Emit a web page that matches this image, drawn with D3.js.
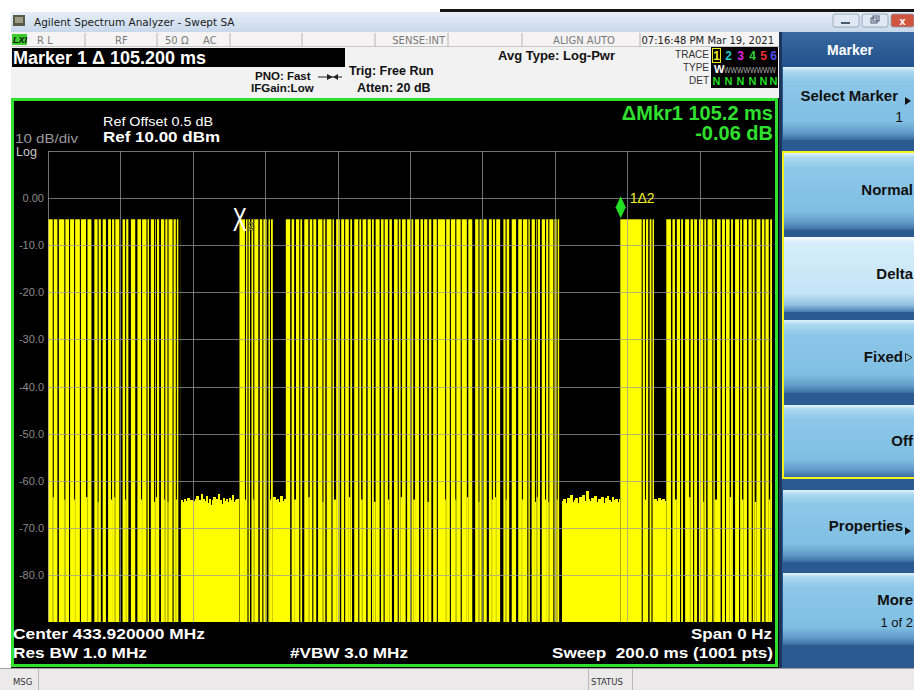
<!DOCTYPE html>
<html><head><meta charset="utf-8">
<script src="https://cdn.jsdelivr.net/npm/d3@7"></script>
<style>
html,body{margin:0;padding:0;background:#fff;overflow:hidden;}
svg{display:block;font-family:"Liberation Sans",Arial,sans-serif;}
</style></head><body>
<svg id="c" width="914" height="690"></svg>
<script>
// ---------------- data ----------------
const sweepMs = [0, 200];
const scaleDbm = [-90, 10];
const xGridMs = [0, 20, 40, 60, 80, 100, 120, 140, 160, 180];
const yGridDbm = [10, 0, -10, -20, -30, -40, -50, -60, -70, -80];
const yTickDbm = [0, -10, -20, -30, -40, -50, -60, -70, -80];
const yTickLabels = ["0.00", "-10.0", "-20.0", "-30.0", "-40.0", "-50.0", "-60.0", "-70.0", "-80.0"];

const onLevelDbm = -4.5;
const burstStartMs = [0, 52.9, 65.7, 158.1, 170.8];
const burstEndMs = [36.7, 62.1, 141.2, 167.4, 200];

// "off" slots inside the bursts: start (ms), duration (ms), level the trace falls to (dBm; -100 = below screen)
const offStartMs = [
  1.3, 2.6, 4.5, 5.8, 7.2, 8.8, 10.5, 12.0, 13.7, 14.6, 16.0, 17.4, 18.3, 19.7, 21.3, 22.2, 24.1, 25.7, 27.2, 27.9, 29.3, 29.8, 30.7, 32.1, 33.0, 34.4, 35.3, 36.0,
  54.4, 55.1, 55.8, 56.7, 58.1, 59.2, 60.4, 61.3,
  66.9, 68.0, 69.4, 70.2, 71.9, 73.0, 74.1, 75.8, 76.6, 78.3, 79.0, 80.6, 81.8, 83.1, 84.0, 85.7, 86.5, 87.9, 89.2, 90.0, 91.6, 92.7, 93.9, 95.0, 96.6, 97.4, 98.8, 100.1, 100.9, 102.5, 103.6, 104.8, 105.9, 107.4,
  109.7, 111.0, 112.5, 114.0, 115.7, 117.2, 118.9, 119.8, 121.2, 122.6, 123.5, 124.9, 126.4, 127.4, 129.3, 130.9, 132.4, 133.1, 134.5, 135.0, 135.9, 137.3, 138.2, 139.6, 140.5,
  164.0, 164.9, 165.8, 166.7,
  172.1, 173.2, 174.6, 175.4, 177.1, 178.2, 179.3, 181.0, 181.8, 183.5, 184.2, 185.8, 187.0, 188.3, 189.2, 190.9, 191.7, 193.1, 194.4, 195.2, 196.8, 197.9, 199.1];
const offDurMs = [
  0.3, 0.4, 0.3, 0.3, 0.3, 0.3, 0.4, 0.8, 0.3, 0.5, 0.6, 0.3, 0.3, 0.9, 0.3, 0.7, 0.6, 0.3, 0.3, 0.5, 0.3, 0.3, 0.5, 0.3, 0.3, 0.3, 0.3, 0.7,
  0.3, 0.3, 0.4, 0.3, 0.4, 0.3, 0.5, 0.3,
  0.4, 0.5, 0.3, 0.6, 0.4, 0.3, 0.5, 0.3, 0.4, 0.3, 0.6, 0.4, 0.3, 0.4, 0.6, 0.3, 0.4, 0.4, 0.3, 0.5, 0.4, 0.3, 0.4, 0.6, 0.3, 0.4, 0.4, 0.3, 0.5, 0.4, 0.3, 0.4, 0.5, 0.3,
  0.3, 0.3, 0.3, 0.3, 0.4, 0.8, 0.3, 0.5, 0.6, 0.3, 0.3, 0.9, 0.3, 0.7, 0.6, 0.3, 0.3, 0.5, 0.3, 0.3, 0.5, 0.3, 0.3, 0.3, 0.3,
  0.3, 0.3, 0.4, 0.3,
  0.4, 0.5, 0.3, 0.6, 0.4, 0.3, 0.5, 0.3, 0.4, 0.3, 0.6, 0.4, 0.3, 0.4, 0.6, 0.3, 0.4, 0.4, 0.3, 0.5, 0.4, 0.3, 0.4];
const offFloorDbm = [
  -63.5, -100, -64, -100, -64, -100, -63.5, -100, -64.5, -100, -100, -64, -63.5, -100, -64, -100, -100, -64, -100, -100, -64.5, -63.5, -100, -64, -64.5, -100, -64, -100,
  -64, -100, -100, -64, -100, -100, -100, -64,
  -100, -64, -100, -100, -63.5, -100, -100, -64.5, -100, -100, -64, -100, -100, -63.5, -100, -100, -64, -100, -100, -64.5, -100, -100, -64, -100, -100, -63.5, -100, -100, -64, -100, -100, -64.5, -100, -100,
  -64, -100, -64, -100, -63.5, -100, -64.5, -100, -100, -64, -63.5, -100, -64, -100, -100, -64, -100, -100, -64.5, -63.5, -100, -64, -64.5, -100, -64,
  -100, -64, -100, -100,
  -100, -64, -100, -100, -63.5, -100, -100, -64.5, -100, -100, -64, -100, -100, -63.5, -100, -100, -64, -100, -100, -64.5, -100, -100, -64];

// noise floor between bursts (read along the ragged top edge)
const noiseGapStartMs = [36.7, 62.1, 141.9, 167.4];
const noiseGapEndMs = [52.9, 65.7, 158.1, 170.8];
const noiseGapDbm = [
  [-64.2,-64.6,-63.9,-64.3,-63.6,-64.8,-64.1,-65.0,-64.3,-63.8,-63.3,-64.6,-64.1,-62.8,-63.9,-64.4,-63.2,-64.7,-63.9,-65.1,-64.2,-63.4,-64.6,-63.8,-62.9,-64.1,-64.9,-63.6,-64.3,-63.9,-64.5,-63.7,-64.0,-63.1,-64.6,-64.2,-63.8,-64.4],
  [-63.4,-64.1,-63.8,-64.6,-63.2,-64.3,-63.9],
  [-64.4,-63.9,-64.7,-63.6,-64.2,-63.1,-64.5,-64.0,-63.7,-64.8,-63.5,-64.1,-63.0,-64.4,-62.2,-63.8,-64.3,-63.6,-64.1,-63.3,-64.6,-63.9,-64.2,-63.4,-64.8,-63.7,-63.2,-64.0,-64.5,-63.5,-64.2,-63.8,-64.6,-63.9],
  [-63.9,-64.3,-63.6,-64.1,-63.8,-64.4]
];

const marker2Ms = 53.0;
const marker1Ms = 158.2;

// ---------------- drawing ----------------
const svg = d3.select("#c");
const defs = svg.append("defs");
const x = d3.scaleLinear().domain(sweepMs).range([48, 772]);
const y = d3.scaleLinear().domain(scaleDbm).range([622, 151]);

function grad(id, stops) {
  const g = defs.append("linearGradient").attr("id", id).attr("x1", 0).attr("x2", 0).attr("y1", 0).attr("y2", 1);
  stops.forEach(s => g.append("stop").attr("offset", s[0]).attr("stop-color", s[1]));
}
grad("titleG", [[0, "#e6eef8"], [1, "#c8d8eb"]]);
grad("btnG", [[0, "#e2f2fb"], [0.06, "#acd8f0"], [0.2, "#8cc7e8"], [0.75, "#80bfe3"], [0.9, "#609bc8"], [1, "#3a6da2"]]);
grad("btnSel", [[0, "#f7fcff"], [0.08, "#d6eefa"], [0.75, "#c4e4f6"], [0.9, "#94c2e2"], [1, "#4a7db0"]]);
grad("hdrG", [[0, "#3a6aa2"], [1, "#22508a"]]);

// page
svg.append("rect").attr("width", 914).attr("height", 690).attr("fill", "#ffffff");
svg.append("rect").attr("x", 440).attr("y", 9).attr("width", 474).attr("height", 3).attr("fill", "#151515");

// title bar
svg.append("rect").attr("x", 11).attr("y", 12).attr("width", 903).attr("height", 20).attr("fill", "url(#titleG)");
const ic = svg.append("g");
ic.append("rect").attr("x", 13).attr("y", 15).attr("width", 12).attr("height", 11).attr("fill", "#5a5a48");
ic.append("rect").attr("x", 15).attr("y", 17).attr("width", 8).attr("height", 6).attr("fill", "#9c9c80");
svg.append("text").attr("x", 34).attr("y", 26).attr("font-family", "'DejaVu Sans',sans-serif").attr("font-size", 10.5).attr("fill", "#1b1b1b").text("Agilent Spectrum Analyzer - Swept SA");
// window buttons
[[833, "#dfe8f3"], [862, "#dfe8f3"], [891, "#d0553f"]].forEach((b, i) => {
  svg.append("rect").attr("x", b[0]).attr("y", 14).attr("width", i === 2 ? 23 : 26).attr("height", 13).attr("rx", 2).attr("fill", b[1]).attr("stroke", "#8b9bb0").attr("stroke-width", 0.8);
});
svg.append("rect").attr("x", 841).attr("y", 22).attr("width", 9).attr("height", 2).attr("fill", "#4a5a70");
svg.append("rect").attr("x", 871).attr("y", 18).attr("width", 6).attr("height", 5).attr("fill", "none").attr("stroke", "#4a5a70");
svg.append("rect").attr("x", 873).attr("y", 16).attr("width", 6).attr("height", 5).attr("fill", "none").attr("stroke", "#4a5a70");
svg.append("text").attr("x", 902.5).attr("y", 25).attr("text-anchor", "middle").attr("font-size", 11).attr("font-weight", "bold").attr("fill", "#fff").text("x");

// status row
svg.append("rect").attr("x", 11).attr("y", 32).attr("width", 770).attr("height", 15).attr("fill", "#f5f3f3");
svg.append("line").attr("x1", 11).attr("x2", 781).attr("y1", 47).attr("y2", 47).attr("stroke", "#9a9a9a");
[85, 157, 230, 302, 375, 448, 522, 640].forEach(v => svg.append("line").attr("x1", v).attr("x2", v).attr("y1", 33).attr("y2", 47).attr("stroke", "#b5b5b5"));
svg.append("rect").attr("x", 12).attr("y", 34).attr("width", 15).attr("height", 11).attr("fill", "#3ccc2c");
svg.append("text").attr("x", 13).attr("y", 43).attr("font-size", 9).attr("font-style", "italic").attr("font-weight", "bold").attr("fill", "#111").text("LXI");
const statusTxt = [["R L", 37, "start"], ["RF", 115, "start"], ["50 Ω", 165, "start"], ["AC", 203, "start"], ["SENSE:INT", 445, "end"], ["ALIGN AUTO", 615, "end"], ["07:16:48 PM Mar 19, 2021", 774, "end"]];
statusTxt.forEach(s => svg.append("text").attr("x", s[1]).attr("y", 44).attr("text-anchor", s[2]).attr("font-family", "'DejaVu Sans',sans-serif").attr("font-size", 10).attr("fill", s[0].startsWith("07") ? "#222" : "#7a7a7a").text(s[0]));

// info area
svg.append("rect").attr("x", 11).attr("y", 47).attr("width", 770).attr("height", 51).attr("fill", "#f2f2f2");
svg.append("rect").attr("x", 12).attr("y", 48).attr("width", 333).attr("height", 19).attr("fill", "#000");
svg.append("text").attr("x", 13).attr("y", 64).attr("font-size", 18).attr("font-weight", "bold").attr("fill", "#fff").text("Marker 1 Δ 105.200 ms");
const infoTxt = [["PNO: Fast", 255, 80, 11.5], ["IFGain:Low", 251, 92, 11.5], ["Trig: Free Run", 349, 75, 12.5], ["Atten: 20 dB", 357, 92, 12.5], ["Avg Type: Log-Pwr", 498, 60, 13]];
infoTxt.forEach(s => svg.append("text").attr("x", s[1]).attr("y", s[2]).attr("font-size", s[3]).attr("font-weight", "bold").attr("fill", "#111").text(s[0]));
svg.append("line").attr("x1", 318).attr("x2", 342).attr("y1", 77).attr("y2", 77).attr("stroke", "#222");
svg.append("path").attr("d", "M327,74 L333,77 L327,80 Z").attr("fill", "#222");
svg.append("path").attr("d", "M338,74 L333,77 L338,80 Z").attr("fill", "#222");
[["TRACE", 58], ["TYPE", 71], ["DET", 84]].forEach(s => svg.append("text").attr("x", 709).attr("y", s[1]).attr("text-anchor", "end").attr("font-size", 10).attr("fill", "#333").text(s[0]));
svg.append("rect").attr("x", 711).attr("y", 47).attr("width", 67).attr("height", 41).attr("fill", "#000");
svg.append("rect").attr("x", 712.5).attr("y", 48.5).attr("width", 8).attr("height", 14).attr("fill", "none").attr("stroke", "#e8e820");
const traceNums = ["1", "2", "3", "4", "5", "6"];
const traceCols = ["#f0f020", "#22c8c8", "#e020e0", "#30d030", "#f03030", "#5050f0"];
const traceNumX = [716.5, 728.5, 740.5, 752.5, 763.5, 773.5];
traceNums.forEach((t, i) => {
  svg.append("text").attr("x", traceNumX[i]).attr("y", 60).attr("text-anchor", "middle").attr("font-size", 12).attr("font-weight", "bold").attr("fill", traceCols[i]).text(t);
  svg.append("text").attr("x", traceNumX[i]).attr("y", 85).attr("text-anchor", "middle").attr("font-size", 11).attr("font-weight", "bold").attr("fill", "#22dd22").text("N");
});
svg.append("text").attr("x", 714).attr("y", 73).attr("font-size", 11).attr("font-weight", "bold").attr("fill", "#fff").text("W");
svg.append("text").attr("x", 724).attr("y", 73).attr("font-size", 9).attr("fill", "#aaa").attr("textLength", 52).attr("lengthAdjust", "spacingAndGlyphs").text("WWWWWWWW");

// graph frame
svg.append("rect").attr("x", 11).attr("y", 98).attr("width", 768).attr("height", 570).attr("fill", "#000");
svg.append("rect").attr("x", 12.5).attr("y", 99.5).attr("width", 764).attr("height", 566).attr("fill", "none").attr("stroke", "#2fe02f").attr("stroke-width", 3);

// trace
const clip = defs.append("clipPath").attr("id", "plotClip");
clip.append("rect").attr("x", x(0)).attr("y", y(10)).attr("width", x(200) - x(0)).attr("height", y(-90) - y(10));
const tr = svg.append("g").attr("clip-path", "url(#plotClip)");
const YEL = "#ffff00";
const bursts = burstStartMs.map((s, i) => ({ s, e: burstEndMs[i] }));
tr.selectAll("rect.burst").data(bursts).join("rect").attr("class", "burst")
  .attr("x", d => x(d.s)).attr("width", d => x(d.e) - x(d.s))
  .attr("y", y(onLevelDbm)).attr("height", y(-90) - y(onLevelDbm)).attr("fill", YEL);
const offs = offStartMs.map((s, i) => ({ s, d: offDurMs[i], f: offFloorDbm[i] }));
tr.selectAll("rect.off").data(offs).join("rect").attr("class", "off")
  .attr("x", d => x(d.s)).attr("width", d => Math.max(1, x(d.s + d.d) - x(d.s)))
  .attr("y", y(onLevelDbm) - 1).attr("height", y(-90) - y(onLevelDbm) + 2).attr("fill", "#000");
tr.selectAll("rect.offn").data(offs.filter(d => d.f > -90)).join("rect").attr("class", "offn")
  .attr("x", d => x(d.s)).attr("width", d => Math.max(1, x(d.s + d.d) - x(d.s)))
  .attr("y", d => y(d.f)).attr("height", d => y(-90) - y(d.f)).attr("fill", YEL);
noiseGapDbm.forEach((arr, gi) => {
  const s = noiseGapStartMs[gi], e = noiseGapEndMs[gi], step = (e - s) / arr.length;
  const w = (x(e) - x(s)) / arr.length;
  tr.selectAll(null).data(arr).join("rect")
    .attr("x", (d, i) => x(s + i * step)).attr("width", (d, i) => i === arr.length - 1 ? w : w + 1)
    .attr("y", d => y(d)).attr("height", d => y(-90) - y(d)).attr("fill", YEL).attr("shape-rendering", "crispEdges");
});

// graticule (drawn over the trace)
const grid = svg.append("g").attr("stroke", "#9a9a9a").attr("stroke-opacity", 0.72).attr("stroke-width", 1);
grid.selectAll("line.h").data(yGridDbm).join("line").attr("x1", x(0)).attr("x2", x(200)).attr("y1", d => Math.round(y(d)) + 0.5).attr("y2", d => Math.round(y(d)) + 0.5);
grid.selectAll("line.v").data(xGridMs).join("line").attr("y1", y(10)).attr("y2", y(-90)).attr("x1", d => Math.round(x(d)) + 0.5).attr("x2", d => Math.round(x(d)) + 0.5);

// y labels
const yAxis = d3.axisLeft(y).tickValues(yTickDbm).tickFormat((d, i) => yTickLabels[i]).tickSize(0).tickPadding(4);
const ya = svg.append("g").attr("transform", `translate(${x(0)},0)`).call(yAxis);
ya.select(".domain").remove();
ya.selectAll("text").attr("font-family", "'Liberation Sans',Arial,sans-serif").attr("font-size", 11).attr("fill", "#8a8a8a");

// annotations
svg.append("text").attr("x", 15).attr("y", 143).attr("font-size", 12).attr("fill", "#9a9a9a").attr("textLength", 63).attr("lengthAdjust", "spacingAndGlyphs").text("10 dB/div");
svg.append("text").attr("x", 16).attr("y", 156).attr("font-size", 12.5).attr("fill", "#c8c8c8").text("Log");
svg.append("text").attr("x", 103).attr("y", 126).attr("font-size", 12.5).attr("fill", "#fff").attr("textLength", 110).attr("lengthAdjust", "spacingAndGlyphs").text("Ref Offset 0.5 dB");
svg.append("text").attr("x", 103).attr("y", 142).attr("font-size", 14).attr("font-weight", "bold").attr("fill", "#fff").attr("textLength", 117).attr("lengthAdjust", "spacingAndGlyphs").text("Ref 10.00 dBm");
svg.append("text").attr("x", 773).attr("y", 120).attr("text-anchor", "end").attr("font-size", 20).attr("font-weight", "bold").attr("fill", "#2fe02f").text("ΔMkr1 105.2 ms");
svg.append("text").attr("x", 773).attr("y", 140).attr("text-anchor", "end").attr("font-size", 20).attr("font-weight", "bold").attr("fill", "#2fe02f").text("-0.06 dB");

const bottomTxt = [["Center 433.920000 MHz", 13, 639, "start", 192], ["Res BW 1.0 MHz", 13, 658, "start", 134], ["#VBW 3.0 MHz", 290, 658, "start", 118], ["Span 0 Hz", 772, 639, "end", 81], ["Sweep  200.0 ms (1001 pts)", 773, 658, "end", 221]];
bottomTxt.forEach(s => svg.append("text").attr("x", s[1]).attr("y", s[2]).attr("text-anchor", s[3]).attr("font-size", 15).attr("font-weight", "bold").attr("fill", "#fff").attr("textLength", s[4]).attr("lengthAdjust", "spacingAndGlyphs").style("white-space", "pre").text(s[0]));

// markers
const mk2 = svg.append("g").attr("transform", `translate(${x(marker2Ms)},${y(onLevelDbm)})`);
mk2.append("text").attr("x", 0).attr("y", 12).attr("text-anchor", "middle").attr("font-size", 34).attr("fill", "#fff").attr("transform", "scale(0.62,1)").text("X");
mk2.append("text").attr("x", 8).attr("y", 11).attr("font-size", 10).attr("font-weight", "bold").attr("fill", "#ffff40").attr("stroke", "#000").attr("stroke-width", 0.5).text("2");
const mk1 = svg.append("g").attr("transform", `translate(${x(marker1Ms)},${y(onLevelDbm)})`);
mk1.append("path").attr("d", "M0,-1 L-5,-12 L0,-23 L5,-12 Z").attr("fill", "#22e022");
mk1.append("text").attr("x", 9).attr("y", -16).attr("font-size", 14).attr("fill", "#f0f020").text("1Δ2");

// softkey panel
svg.append("rect").attr("x", 779).attr("y", 32).attr("width", 135).attr("height", 636).attr("fill", "#2b5a90");
svg.append("rect").attr("x", 779).attr("y", 32).attr("width", 3).attr("height", 636).attr("fill", "#1c3558");
svg.append("rect").attr("x", 782).attr("y", 32).attr("width", 132).attr("height", 35).attr("fill", "url(#hdrG)");
svg.append("text").attr("x", 850).attr("y", 55).attr("text-anchor", "middle").attr("font-size", 14).attr("font-weight", "bold").attr("fill", "#fff").text("Marker");
const btnY0 = [67, 153, 237, 320, 405, 490, 573];
const btnY1 = [140, 230, 312, 393, 477, 562, 645];
const btnSel = [false, false, true, false, false, false, false];
btnY0.forEach((v, i) => svg.append("rect").attr("x", 783).attr("y", v).attr("width", 131).attr("height", btnY1[i] - v).attr("fill", btnSel[i] ? "url(#btnSel)" : "url(#btnG)"));
svg.append("rect").attr("x", 783).attr("y", 152).attr("width", 132).attr("height", 326).attr("fill", "none").attr("stroke", "#f4f41a").attr("stroke-width", 2);
const keyTxt = [["Select Marker", 898, 101, 15, "bold"], ["1", 903, 122, 14, "normal"], ["Normal", 913, 195, 15, "bold"], ["Delta", 913, 279, 15, "bold"], ["Fixed", 903, 362, 15, "bold"], ["Off", 913, 446, 15, "bold"], ["Properties", 903, 531, 15, "bold"], ["More", 913, 605, 15, "bold"], ["1 of 2", 913, 627, 13, "normal"]];
keyTxt.forEach(s => svg.append("text").attr("x", s[1]).attr("y", s[2]).attr("text-anchor", "end").attr("font-size", s[3]).attr("font-weight", s[4]).attr("fill", "#111").text(s[0]));
svg.append("path").attr("d", "M905,97 L911,101 L905,105 Z").attr("fill", "#111");
svg.append("path").attr("d", "M905,527 L911,531 L905,535 Z").attr("fill", "#111");
svg.append("path").attr("d", "M905.5,353.5 L912,357.5 L905.5,361.5 Z").attr("fill", "none").attr("stroke", "#222").attr("stroke-width", 1);

// bottom bar
svg.append("rect").attr("x", 0).attr("y", 668).attr("width", 914).attr("height", 22).attr("fill", "#ebe9e9");
svg.append("line").attr("x1", 0).attr("x2", 914).attr("y1", 668.5).attr("y2", 668.5).attr("stroke", "#a0a0a0");
[38, 588, 632].forEach(v => svg.append("line").attr("x1", v + 0.5).attr("x2", v + 0.5).attr("y1", 669).attr("y2", 690).attr("stroke", "#b8b8b8"));
svg.append("text").attr("x", 13).attr("y", 685).attr("font-family", "'DejaVu Sans',sans-serif").attr("font-size", 8.5).attr("fill", "#333").text("MSG");
svg.append("text").attr("x", 591).attr("y", 685).attr("font-family", "'DejaVu Sans',sans-serif").attr("font-size", 8.5).attr("fill", "#333").text("STATUS");
</script></body></html>
